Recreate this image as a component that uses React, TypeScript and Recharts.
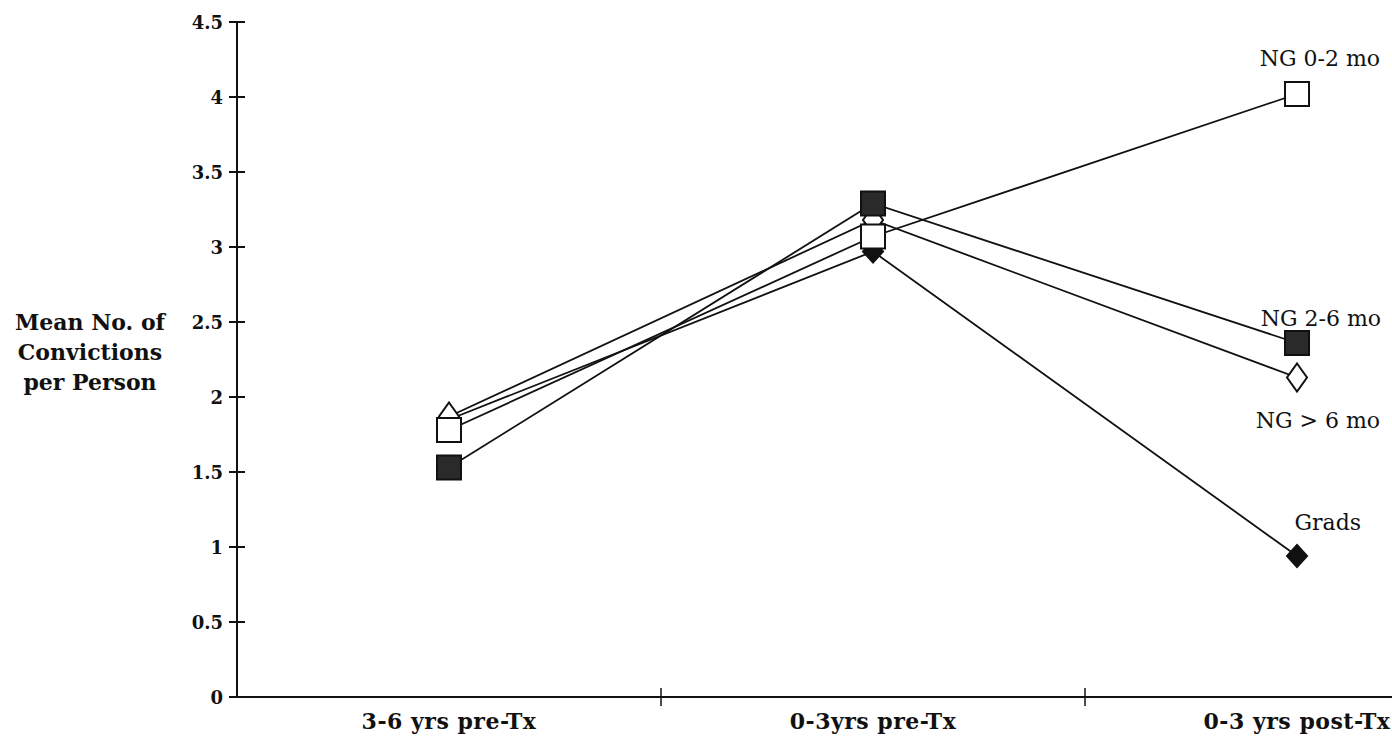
import React from 'react';
import { LineChart, Line, XAxis, YAxis, ReferenceLine, LabelList } from 'recharts';

const categories = ['3-6 yrs pre-Tx', '0-3yrs pre-Tx', '0-3 yrs post-Tx'];
const ng02 = [1.78, 3.07, 4.02];
const ng26 = [1.53, 3.29, 2.36];
const ngOver6 = [1.87, 3.18, 2.13];
const grads = [1.85, 2.97, 0.94];
const yTicks = [0, 0.5, 1, 1.5, 2, 2.5, 3, 3.5, 4, 4.5];
const dividers = [1, 2];
const titleLines = ['Mean No. of', 'Convictions', 'per Person'];

const data = categories.map((cat, i) => ({
  pos: i + 0.5,
  cat,
  ng02: ng02[i],
  ng26: ng26[i],
  ngOver6: ngOver6[i],
  grads: grads[i],
}));

const FONT = '"DejaVu Serif", "Liberation Serif", serif';

const Square = ({ cx, cy, fill }: any) => (
  <rect x={cx - 12} y={cy - 12} width={24} height={24} fill={fill} stroke="#111" strokeWidth={2} />
);

const Diamond = ({ cx, cy, fill, rx, ry }: any) => (
  <path
    d={`M${cx},${cy - ry} L${cx + rx},${cy} L${cx},${cy + ry} L${cx - rx},${cy} Z`}
    fill={fill}
    stroke="#111"
    strokeWidth={2}
  />
);

const makeDot = (kind: string) => (p: any) => {
  const k = `${kind}-${p.index}`;
  if (kind === 'openSq') return <Square key={k} cx={p.cx} cy={p.cy} fill="#fff" />;
  if (kind === 'fillSq') return <Square key={k} cx={p.cx} cy={p.cy} fill="#2a2a2a" />;
  if (kind === 'openDi') return <Diamond key={k} cx={p.cx} cy={p.cy} fill="#fff" rx={10} ry={14} />;
  return <Diamond key={k} cx={p.cx} cy={p.cy} fill="#111" rx={10} ry={11} />;
};

const endLabel = (text: string, dx: number, dy: number) => (p: any) => {
  if (p.index !== categories.length - 1) return null;
  return (
    <text
      x={p.x + dx}
      y={p.y + dy}
      textAnchor="end"
      fontFamily={FONT}
      fontSize={22}
      fill="#111"
    >
      {text}
    </text>
  );
};

const YTick = ({ x, y, payload }: any) => (
  <g>
    <line x1={x - 8} x2={x + 8} y1={y} y2={y} stroke="#111" strokeWidth={2} />
    <text
      x={x - 14}
      y={y + 7}
      textAnchor="end"
      fontFamily={FONT}
      fontSize={18}
      fontWeight="bold"
      fill="#111"
    >
      {payload.value}
    </text>
  </g>
);

const XTick = ({ x, y, payload }: any) => (
  <text
    x={x}
    y={y + 32}
    textAnchor="middle"
    fontFamily={FONT}
    fontSize={22}
    fontWeight="bold"
    letterSpacing={0.5}
    fill="#111"
  >
    {categories[Math.floor(payload.value)]}
  </text>
);

const YTitle = ({ viewBox }: any) => {
  const cx = viewBox.x - 87;
  const cy = viewBox.y + viewBox.height / 2 - 8;
  return (
    <g>
      {titleLines.map((t, i) => (
        <text
          key={t}
          x={cx}
          y={cy + (i - 1) * 30 + 8}
          textAnchor="middle"
          fontFamily={FONT}
          fontSize={22}
          fontWeight="bold"
          fill="#111"
        >
          {t}
        </text>
      ))}
    </g>
  );
};

export default function App() {
  return (
    <div style={{ position: 'absolute', left: 0, top: 0, width: 1392, height: 748, background: '#fff' }}>
      <LineChart
        width={1392}
        height={748}
        data={data}
        margin={{ top: 22, right: 0, left: 177, bottom: 11 }}
      >
        <XAxis
          dataKey="pos"
          type="number"
          domain={[0, 2.724]}
          allowDataOverflow
          ticks={[0.5, 1.5, 2.5]}
          tick={<XTick />}
          tickLine={false}
          tickSize={0}
          tickMargin={0}
          height={40}
          axisLine={{ stroke: '#111', strokeWidth: 2 }}
        />
        <YAxis
          type="number"
          domain={[0, 4.5]}
          ticks={yTicks}
          tick={<YTick />}
          tickLine={false}
          tickSize={0}
          tickMargin={0}
          width={60}
          axisLine={{ stroke: '#111', strokeWidth: 2 }}
          label={{ content: <YTitle /> }}
        />
        {dividers.map((d) => (
          <ReferenceLine
            key={d}
            segment={[{ x: d, y: -0.06 }, { x: d, y: 0.06 }]}
            stroke="#111"
            strokeWidth={1.5}
            ifOverflow="visible"
          />
        ))}
        <Line
          dataKey="grads"
          stroke="#111"
          strokeWidth={1.8}
          dot={makeDot('fillDi')}
          isAnimationActive={false}
        >
          <LabelList content={endLabel('Grads', 64, -26)} />
        </Line>
        <Line
          dataKey="ngOver6"
          stroke="#111"
          strokeWidth={1.8}
          dot={makeDot('openDi')}
          isAnimationActive={false}
        >
          <LabelList content={endLabel('NG > 6 mo', 83, 50)} />
        </Line>
        <Line
          dataKey="ng26"
          stroke="#111"
          strokeWidth={1.8}
          dot={makeDot('fillSq')}
          isAnimationActive={false}
        >
          <LabelList content={endLabel('NG 2-6 mo', 84, -17)} />
        </Line>
        <Line
          dataKey="ng02"
          stroke="#111"
          strokeWidth={1.8}
          dot={makeDot('openSq')}
          isAnimationActive={false}
        >
          <LabelList content={endLabel('NG 0-2 mo', 83, -28)} />
        </Line>
      </LineChart>
    </div>
  );
}
